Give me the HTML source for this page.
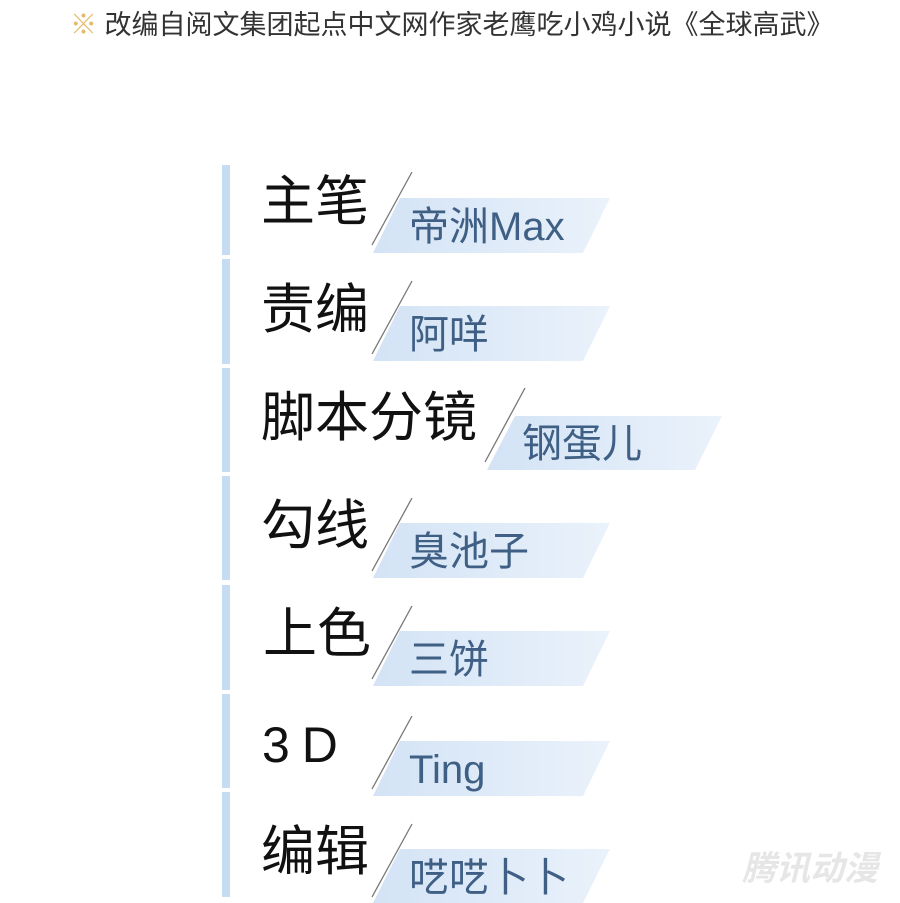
<!DOCTYPE html>
<html><head><meta charset="utf-8"><style>
body{margin:0;width:900px;height:903px;background:#fff;position:relative;overflow:hidden;font-family:"Liberation Sans","Noto Sans CJK SC",sans-serif}
.t{position:absolute;white-space:nowrap;line-height:1}
.h{font-size:54px;color:#111}
.n{font-size:40px;color:#3f5f85}
</style></head><body>
<div class="t" style="left:70px;top:12px;font-size:27px;color:#333"><span style="color:#e5b86a">※</span> 改编自阅文集团起点中文网作家老鹰吃小鸡小说《全球高武》</div>
<svg width="900" height="903" style="position:absolute;left:0;top:0">
<defs><linearGradient id="g" x1="0" x2="1"><stop offset="0" stop-color="#d3e3f5"/><stop offset="1" stop-color="#eaf2fb"/></linearGradient></defs>
<g fill="#c6dcf3">
<rect x="222" y="165" width="8" height="90"/>
<rect x="222" y="259" width="8" height="105"/>
<rect x="222" y="368" width="8" height="104"/>
<rect x="222" y="476" width="8" height="104"/>
<rect x="222" y="585" width="8" height="105"/>
<rect x="222" y="694" width="8" height="94"/>
<rect x="222" y="792" width="8" height="105"/>
</g>
<g id="r" fill="url(#g)" stroke="#777" stroke-width="1.3">
<polygon stroke="none" points="400,198 610,198 583,253 373,253"/><line x1="412" y1="172" x2="372" y2="245"/>
<polygon stroke="none" points="400,306 610,306 583,361 373,361"/><line x1="412" y1="281" x2="372" y2="354"/>
<polygon stroke="none" points="515,416 722,416 695,470 487,470"/><line x1="525" y1="388" x2="485" y2="462"/>
<polygon stroke="none" points="400,523 610,523 583,578 373,578"/><line x1="412" y1="498" x2="372" y2="571"/>
<polygon stroke="none" points="400,631 610,631 583,686 373,686"/><line x1="412" y1="606" x2="372" y2="679"/>
<polygon stroke="none" points="400,741 610,741 583,796 373,796"/><line x1="412" y1="716" x2="372" y2="789"/>
<polygon stroke="none" points="400,849 610,849 583,903 373,903"/><line x1="412" y1="824" x2="372" y2="897"/>
</g>
</svg>
<div class="t h" style="left:261px;top:175px">主笔</div>
<div class="t n" style="left:409px;top:207px">帝洲Max</div>
<div class="t h" style="left:261px;top:283px">责编</div>
<div class="t n" style="left:409px;top:315px">阿咩</div>
<div class="t h" style="left:261px;top:391px">脚本分镜</div>
<div class="t n" style="left:522px;top:424px">钢蛋儿</div>
<div class="t h" style="left:261px;top:499px">勾线</div>
<div class="t n" style="left:409px;top:532px">臭池子</div>
<div class="t h" style="left:263px;top:607px">上色</div>
<div class="t n" style="left:409px;top:640px">三饼</div>
<div class="t h" style="left:262px;top:720px;letter-spacing:12px;font-size:50px">3D</div>
<div class="t n" style="left:409px;top:750px">Ting</div>
<div class="t h" style="left:261px;top:825px">编辑</div>
<div class="t n" style="left:409px;top:858px">呓呓卜卜</div>
<div class="t" style="left:742px;top:852px;font-size:34px;font-weight:bold;font-style:italic;color:#e6e6e6">腾讯动漫</div>
</body></html>
